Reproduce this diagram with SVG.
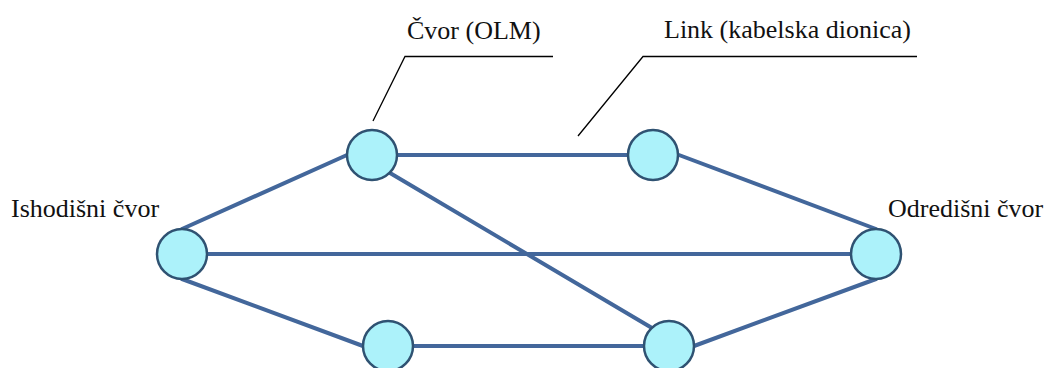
<svg xmlns="http://www.w3.org/2000/svg" width="1046" height="368" viewBox="0 0 1046 368">
<style>
.link{stroke:#43679b;stroke-width:4;fill:none;stroke-linecap:round}
.node{fill:#acf2fa;stroke:#2f5272;stroke-width:2.5}
.callout{stroke:#000;stroke-width:1.3;fill:none}
.lbl{font-family:"Liberation Serif","Times New Roman",serif;font-size:26px;fill:#111}
</style>
<rect width="1046" height="368" fill="#fff"/>
<g id="connectors">
<line class="link" x1="182" y1="229" x2="347" y2="155"/>
<line class="link" x1="397" y1="155" x2="627" y2="155"/>
<line class="link" x1="390" y1="173" x2="652" y2="328"/>
<line class="link" x1="679" y1="155" x2="876" y2="229"/>
<line class="link" x1="207" y1="254" x2="851" y2="254"/>
<line class="link" x1="182" y1="279" x2="363" y2="346"/>
<line class="link" x1="413" y1="346" x2="644" y2="346"/>
<line class="link" x1="694" y1="346" x2="876" y2="279"/>
</g>
<g id="callouts">
<polyline class="callout" points="373,121 405,56.5 553,56.5"/>
<polyline class="callout" points="578,136 643,56.5 917,56.5"/>
</g>
<g id="node-ishodisni"><circle class="node" cx="182" cy="254" r="25"/><text class="lbl" x="11" y="217">Ishodišni čvor</text></g>
<g id="node-olm"><circle class="node" cx="372" cy="155" r="25"/><text class="lbl" x="407" y="39">Čvor (OLM)</text></g>
<g id="node-top-right"><circle class="node" cx="653" cy="155" r="25"/></g>
<g id="node-odredisni"><circle class="node" cx="876" cy="254" r="25"/><text class="lbl" x="888" y="217">Odredišni čvor</text></g>
<g id="node-bottom-left"><circle class="node" cx="388" cy="346" r="25"/></g>
<g id="node-bottom-right"><circle class="node" cx="669" cy="346" r="25"/></g>
<g id="link-label"><text class="lbl" x="664" y="38">Link (kabelska dionica)</text></g>
</svg>
